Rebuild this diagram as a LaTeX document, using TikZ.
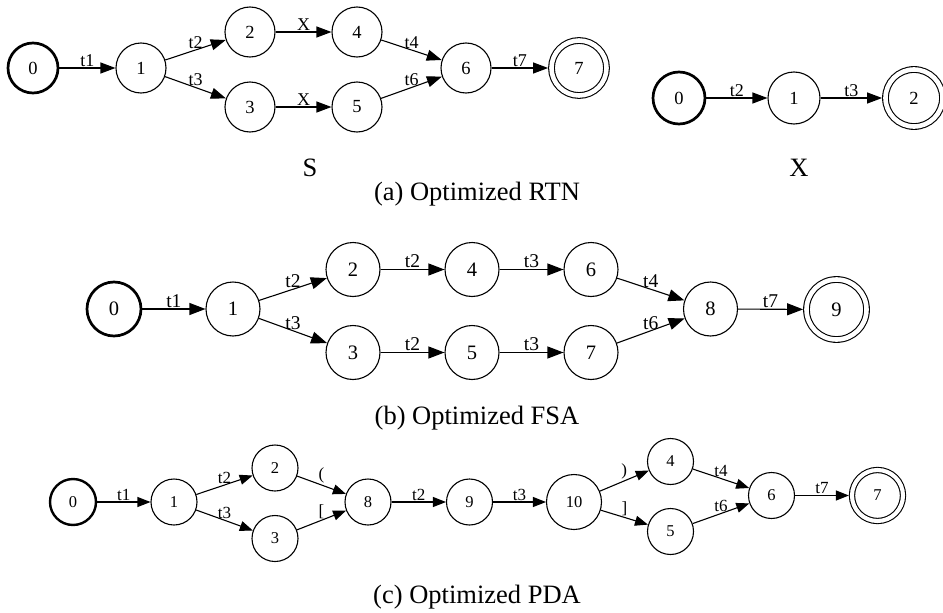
\documentclass[tikz,border=0pt]{standalone}
\usepackage{fontspec}
\setmainfont{Liberation Serif}
\usetikzlibrary{arrows.meta}

\tikzset{
  estado/.style={circle,draw,line width=1.1pt,inner sep=0pt},
  inicio/.style={estado,line width=2.7pt},
  final/.style={estado,double,double distance=4.6pt,outer sep=3.4pt},
  flecha/.style={line width=1.1pt},
  etiq/.style={above,inner sep=1pt},
  leyenda/.style={anchor=base,inner sep=0pt,font=\fontsize{26.5}{26.5}\selectfont}
}

\begin{document}
\begin{tikzpicture}[x=1pt,y=-1pt]
        % Paso 0: Fija el marco del dibujo
        \useasboundingbox (0,0) rectangle (943,613);

        % Paso 1: Define la red S de la RTN
        \begin{scope}[estado/.append style={minimum size=50pt,font=\fontsize{18.5}{18.5}\selectfont},
                      final/.append style={minimum size=55pt},
                      etiq/.append style={font=\fontsize{18}{18}\selectfont},
                      flecha/.append style={-{Triangle[length=15pt,width=11pt]}}]
        \node[inicio] (s0) at (33,68) {0};
        \node[estado] (s1) at (141,68) {1};
        \node[estado] (s2) at (250,32) {2};
        \node[estado] (s3) at (250,107) {3};
        \node[estado] (s4) at (357,32) {4};
        \node[estado] (s5) at (357,107) {5};
        \node[estado] (s6) at (466,68) {6};
        \node[final]  (s7) at (579,68) {7};

        \draw[flecha] (s0) -- node[etiq] {t1} (s1);
        \draw[flecha] (s1) -- node[etiq] {t2} (s2);
        \draw[flecha] (s1) -- node[etiq] {t3} (s3);
        \draw[flecha] (s2) -- node[etiq] {X} (s4);
        \draw[flecha] (s3) -- node[etiq] {X} (s5);
        \draw[flecha] (s4) -- node[etiq] {t4} (s6);
        \draw[flecha] (s5) -- node[etiq] {t6} (s6);
        \draw[flecha] (s6) -- node[etiq] {t7} (s7);

        % Paso 2: Define la red X de la RTN
        \begin{scope}[estado/.append style={minimum size=52pt},
                      final/.append style={minimum size=57pt}]
        \node[inicio] (x0) at (679,98) {0};
        \node[estado] (x1) at (794,98) {1};
        \node[final]  (x2) at (914,98) {2};

        \draw[flecha] (x0) -- node[etiq] {t2} (x1);
        \draw[flecha] (x1) -- node[etiq] {t3} (x2);
        \end{scope}
        \end{scope}

        % Paso 3: Agrega nombres de las redes y leyenda (a)
        \node[leyenda] (nomS) at (310,176) {S};
        \node[leyenda] (nomX) at (799,176) {X};
        \node[leyenda] (leyA) at (477,200) {(a) Optimized RTN};

        % Paso 4: Define el FSA optimizado
        \begin{scope}[estado/.append style={minimum size=54pt,font=\fontsize{20.5}{20.5}\selectfont},
                      final/.append style={minimum size=60pt},
                      etiq/.append style={font=\fontsize{19.5}{19.5}\selectfont},
                      flecha/.append style={-{Triangle[length=16pt,width=12pt]}}]
        \node[inicio] (f0) at (114,309) {0};
        \node[estado] (f1) at (233,309) {1};
        \node[estado] (f2) at (353,269.5) {2};
        \node[estado] (f3) at (353,352.5) {3};
        \node[estado] (f4) at (472,269.5) {4};
        \node[estado] (f5) at (472,352.5) {5};
        \node[estado] (f6) at (591,269.5) {6};
        \node[estado] (f7) at (591,352.5) {7};
        \node[estado] (f8) at (710.5,309) {8};
        \node[final]  (f9) at (836.5,309.5) {9};

        \draw[flecha] (f0) -- node[etiq] {t1} (f1);
        \draw[flecha] (f1) -- node[etiq] {t2} (f2);
        \draw[flecha] (f1) -- node[etiq] {t3} (f3);
        \draw[flecha] (f2) -- node[etiq] {t2} (f4);
        \draw[flecha] (f3) -- node[etiq] {t2} (f5);
        \draw[flecha] (f4) -- node[etiq] {t3} (f6);
        \draw[flecha] (f5) -- node[etiq] {t3} (f7);
        \draw[flecha] (f6) -- node[etiq] {t4} (f8);
        \draw[flecha] (f7) -- node[etiq] {t6} (f8);
        \draw[flecha] (f8) -- node[etiq] {t7} (f9);
        \end{scope}

        \node[leyenda] (leyB) at (477,424) {(b) Optimized FSA};

        % Paso 5: Define el PDA optimizado
        \begin{scope}[estado/.append style={minimum size=46pt,font=\fontsize{16.5}{16.5}\selectfont},
                      inicio/.append style={line width=2.4pt},
                      final/.append style={minimum size=51pt,double distance=4.1pt,outer sep=3.1pt},
                      etiq/.append style={font=\fontsize{17}{17}\selectfont},
                      flecha/.append style={-{Triangle[length=13pt,width=10pt]}}]
        \node[inicio] (p0) at (73,502) {0};
        \node[estado] (p1) at (174,502) {1};
        \node[estado] (p2) at (275,468) {2};
        \node[estado] (p3) at (275,538.5) {3};
        \node[estado] (p8) at (368,502) {8};
        \node[estado] (p9) at (469.5,502) {9};
        \node[estado,minimum size=55pt] (p10) at (574,502) {10};
        \node[estado] (p4) at (670.5,461.5) {4};
        \node[estado] (p5) at (670.5,531.5) {5};
        \node[estado] (p6) at (771.5,495.5) {6};
        \node[final]  (p7) at (877.5,495.5) {7};

        \draw[flecha] (p0) -- node[etiq] {t1} (p1);
        \draw[flecha] (p1) -- node[etiq] {t2} (p2);
        \draw[flecha] (p1) -- node[etiq] {t3} (p3);
        \draw[flecha] (p2) -- node[etiq] {(} (p8);
        \draw[flecha] (p3) -- node[etiq] {[} (p8);
        \draw[flecha] (p8) -- node[etiq] {t2} (p9);
        \draw[flecha] (p9) -- node[etiq] {t3} (p10);
        \draw[flecha] (p10) -- node[etiq] {)} (p4);
        \draw[flecha] (p10) -- node[etiq] {]} (p5);
        \draw[flecha] (p4) -- node[etiq] {t4} (p6);
        \draw[flecha] (p5) -- node[etiq] {t6} (p6);
        \draw[flecha] (p6) -- node[etiq] {t7} (p7);
        \end{scope}

        \node[leyenda] (leyC) at (477,603) {(c) Optimized PDA};
\end{tikzpicture}
\end{document}
